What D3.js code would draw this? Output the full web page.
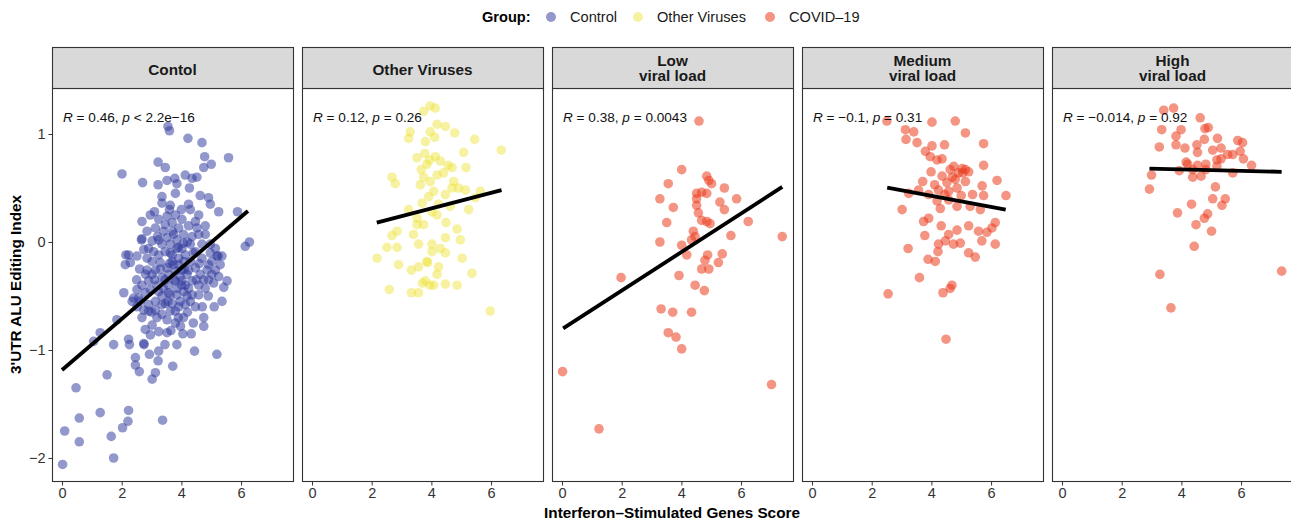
<!DOCTYPE html>
<html>
<head>
<meta charset="utf-8">
<script src="https://cdn.jsdelivr.net/npm/d3@7"></script>
<style>
  body { margin: 0; background: #fff; }
  svg { font-family: "Liberation Sans", Arial, Helvetica, sans-serif; }
</style>
</head>
<body>
<svg id="chart" width="1291" height="523"></svg>
<script>
// facet titles and the stat label in each panel
var panelTitles = [["Contol"], ["Other Viruses"], ["Low", "viral load"], ["Medium", "viral load"], ["High", "viral load"]];
var panelGroup = ["Control", "Other Viruses", "COVID-19", "COVID-19", "COVID-19"];
var statR = ["0.46", "0.12", "0.38", "\u22120.1", "\u22120.014"];
var statP = ["< 2.2e\u221216", "= 0.26", "= 0.0043", "= 0.31", "= 0.92"];

var groups = ["Control", "Other Viruses", "COVID-19"];
var groupLabels = ["Control", "Other Viruses", "COVID\u201319"];
var groupColors = ["#30399e", "#ebe11e", "#eb3c1e"];
var groupOpacity = [0.52, 0.42, 0.55];

var xTicks = [0, 2, 4, 6];
var yTicks = [1, 0, -1, -2];

// fitted lines: [x0, y0, x1, y1]
var fitLines = [
  [0.0, -1.185, 6.23, 0.287],
  [2.17, 0.179, 6.35, 0.48],
  [0.04, -0.80, 7.38, 0.51],
  [2.52, 0.503, 6.49, 0.30],
  [2.93, 0.68, 7.36, 0.65]
];

var controlPts = [
  [3.55,1.07],[3.6,1.03],[4.22,0.96],[4.69,0.92],[4.78,0.79],[5.58,0.78],[4.75,0.69],[5.0,0.72],
  [3.22,0.74],[3.46,0.69],[2.01,0.63],[2.70,0.55],[3.22,0.53],[3.52,0.57],[3.78,0.59],[3.85,0.54],
  [4.13,0.62],[4.36,0.59],[4.52,0.60],[4.27,0.50],[4.63,0.43],[4.91,0.41],[4.97,0.35],[4.24,0.35],
  [5.25,0.28],[5.88,0.28],[3.35,0.36],[3.63,0.34],[2.96,0.25],[2.68,0.19],[3.1,0.28],[4.58,0.25],
  [4.8,0.15],[2.85,0.10],[2.68,0.03],[2.14,-0.12],[2.12,-0.21],[2.29,-0.19],[6.14,-0.04],[6.28,0.0],
  [5.23,-0.13],[5.36,-0.13],[5.53,-0.36],[5.42,-0.42],[5.36,-0.55],[4.75,-0.70],[4.75,-0.78],[2.07,-0.47],
  [1.84,-0.72],[1.28,-0.84],[1.06,-0.92],[1.73,-0.95],[2.23,-0.90],[2.26,-0.95],[2.74,-0.94],[2.93,-1.04],
  [3.24,-1.01],[3.22,-1.10],[2.46,-1.07],[2.46,-1.14],[2.59,-1.20],[3.13,-1.21],[3.02,-1.27],[3.71,-1.15],
  [4.33,-0.85],[4.44,-1.01],[5.19,-1.04],[1.51,-1.23],[0.47,-1.35],[1.28,-1.58],[2.23,-1.56],[2.21,-1.66],
  [2.03,-1.72],[0.58,-1.63],[0.09,-1.75],[0.58,-1.85],[1.65,-1.80],[1.73,-2.0],[3.37,-1.65],[0.02,-2.06],
  [2.66,0.02],[3.02,0.01],[3.13,0.13],[3.46,0.16],[3.69,0.18],[3.91,0.13],[4.07,0.07],[4.36,0.05],
  [4.52,0.13],[4.8,0.07],[4.69,-0.02],[4.97,-0.10],[5.19,-0.13],[5.02,-0.18],[4.86,-0.26],[5.02,-0.30],
  [4.75,-0.35],[4.58,-0.40],[4.24,-0.43],[4.36,-0.49],[4.13,-0.58],[3.91,-0.60],[4.47,-0.60],[4.07,-0.70],
  [3.97,-0.78],[3.8,-0.75],[3.52,-0.84],[3.24,-0.83],[2.96,-0.86],[2.79,-0.81],[3.02,-0.77],[2.68,-0.70],
  [2.74,-0.63],[2.9,-0.58],[3.13,-0.55],[3.35,-0.50],[2.57,-0.52],[2.4,-0.52],[2.51,-0.44],[2.68,-0.40],
  [2.9,-0.36],[3.02,-0.30],[2.85,-0.26],[3.02,-0.18],[2.85,-0.15],[3.24,-0.12],[3.46,-0.09],[3.63,-0.02],
  [3.52,0.04],[3.74,0.07],[3.35,-0.02],[3.69,-0.18],[3.91,-0.15],[4.13,-0.12],[4.3,-0.18],[4.47,-0.24],
  [4.24,-0.26],[4.02,-0.26],[3.8,-0.27],[3.57,-0.30],[3.35,-0.33],[3.57,-0.40],[3.8,-0.36],[4.02,-0.36],
  [3.85,-0.43],[3.63,-0.49],[3.4,-0.43],[3.24,-0.46],[3.46,-0.57],[3.69,-0.57],[3.63,-0.64],[3.35,-0.67],
  [3.18,-0.70],[3.52,-0.72],[4.19,-0.50],[4.58,-0.49],[4.8,-0.43],[4.91,-0.35],[4.63,-0.30],[4.69,-0.15],
  [4.47,-0.09],[4.3,-0.02],[4.07,-0.01],[3.85,-0.06],[3.63,-0.10],[3.29,-0.19],[3.13,-0.26],[3.18,-0.40],
  [2.96,-0.44],[2.79,-0.47],[2.35,-0.55],[2.23,-0.12],[2.51,-0.13],[2.74,-0.07],[2.9,-0.06],[3.07,-0.09],
  [3.24,0.02],[3.4,0.10],[3.24,0.21],[3.52,0.24],[3.8,0.25],[4.02,0.21],[4.24,0.15],[4.47,0.19],
  [4.58,0.07],[4.97,-0.02],[5.14,-0.06],[5.3,-0.21],[4.91,-0.21],[5.14,-0.26],[5.25,-0.32],[5.08,-0.38],
  [2.62,-0.55],[2.51,-0.60],[3.91,-0.21],[4.08,-0.18],[4.19,-0.30],[3.96,-0.32],[3.74,-0.21],[3.52,-0.24],
  [3.69,-0.12],[3.85,0.02],[4.02,-0.06],[4.36,-0.36],[4.13,-0.40],[3.85,-0.49],[4.08,-0.46],[4.30,-0.55],
  [3.57,-0.47],[3.35,-0.58],[3.13,-0.63],[2.90,-0.64],[3.80,-0.64],[3.96,-0.55],[3.6,-0.2],[3.75,-0.35],
  [4.0,-0.4],[4.1,-0.25],[3.9,-0.05],[3.7,0.1],[4.2,0.0],[4.4,-0.1],[4.6,-0.2],[4.5,-0.35],
  [3.3,-0.25],[3.1,-0.35],[3.45,-0.35],[3.55,-0.55],[3.9,-0.7],[4.2,-0.65],[3.0,-0.65],[2.8,-0.3],
  [3.2,0.05],[3.6,0.3],[4.0,0.3],[4.3,0.3],[3.35,0.42],[3.8,0.45],[4.4,-0.75],[3.65,-0.82],
  [4.05,-0.85],[2.6,-0.25],[2.5,-0.35],[4.9,-0.5],[5.1,-0.6],[4.7,-0.6],[3.85,-0.95],[3.45,-0.95],[2.75,-0.95]
];

var otherPts = [
  [3.96,1.26],[4.13,1.24],[3.74,1.21],[4.19,1.09],[4.47,1.07],[3.96,1.02],[3.29,1.02],[3.24,0.96],
  [4.11,0.97],[4.78,1.01],[5.45,0.95],[3.80,0.93],[6.34,0.85],[5.08,0.83],[3.52,0.78],[3.78,0.82],
  [4.13,0.79],[4.30,0.75],[3.94,0.76],[4.56,0.71],[4.69,0.69],[5.16,0.69],[3.66,0.67],[3.85,0.72],
  [2.68,0.60],[2.79,0.54],[3.63,0.53],[3.74,0.60],[3.96,0.56],[4.19,0.62],[4.41,0.64],[4.75,0.56],
  [4.91,0.50],[5.14,0.48],[4.69,0.50],[4.08,0.47],[3.91,0.42],[3.69,0.36],[4.47,0.44],[5.47,0.41],
  [5.64,0.47],[4.24,0.35],[3.24,0.30],[4.02,0.28],[4.63,0.33],[5.25,0.30],[3.52,0.22],[3.74,0.16],
  [3.52,0.16],[4.19,0.25],[4.49,0.18],[4.86,0.12],[2.85,0.10],[2.68,0.06],[3.40,0.07],[3.57,-0.02],
  [4.02,-0.02],[4.47,0.04],[4.97,0.02],[2.51,-0.05],[2.85,-0.05],[4.02,-0.09],[4.30,-0.06],[4.47,-0.10],
  [2.18,-0.15],[2.90,-0.21],[3.85,-0.18],[3.87,-0.19],[5.03,-0.15],[3.33,-0.26],[3.57,-0.23],[4.24,-0.23],
  [5.36,-0.29],[3.80,-0.36],[4.08,-0.40],[4.19,-0.30],[4.47,-0.39],[4.86,-0.40],[2.59,-0.44],[3.33,-0.47],
  [3.57,-0.47],[5.97,-0.64],[3.95,-0.40],[3.70,-0.38]
];

var lowPts = [
  [4.59,1.12],[4.01,0.67],[3.56,0.54],[4.85,0.61],[4.92,0.57],[5.01,0.54],[5.44,0.50],[4.51,0.45],
  [4.68,0.46],[4.85,0.45],[3.28,0.40],[4.51,0.40],[5.29,0.37],[5.85,0.40],[3.73,0.32],[4.51,0.34],
  [5.44,0.30],[4.57,0.27],[3.51,0.18],[4.68,0.20],[4.85,0.19],[4.96,0.17],[6.24,0.19],[4.40,0.10],
  [4.46,0.05],[4.34,0.02],[5.66,0.06],[7.38,0.05],[3.28,0.00],[4.01,-0.03],[4.18,-0.12],[4.88,-0.12],
  [5.37,-0.11],[4.79,-0.17],[5.24,-0.19],[4.68,-0.25],[4.92,-0.25],[1.98,-0.33],[3.92,-0.31],[4.46,-0.40],
  [4.77,-0.45],[3.32,-0.62],[3.71,-0.65],[4.34,-0.65],[3.56,-0.84],[3.82,-0.88],[4.01,-0.99],[0.02,-1.20],
  [1.24,-1.73],[7.02,-1.32]
];

var mediumPts = [
  [2.51,1.12],[4.02,1.11],[4.80,1.12],[3.13,1.04],[3.41,1.02],[3.15,0.95],[5.14,1.01],[3.52,0.92],
  [4.02,0.89],[4.44,0.90],[5.75,0.91],[3.80,0.84],[3.96,0.79],[4.19,0.76],[4.36,0.77],[5.75,0.71],
  [3.99,0.65],[4.75,0.70],[5.03,0.68],[5.14,0.67],[5.25,0.65],[4.91,0.64],[4.63,0.67],[4.36,0.61],
  [4.52,0.55],[4.80,0.58],[5.14,0.56],[3.71,0.56],[4.11,0.53],[6.20,0.57],[5.70,0.52],[3.24,0.45],
  [3.57,0.48],[3.91,0.44],[4.24,0.48],[4.58,0.47],[4.86,0.50],[5.00,0.43],[5.38,0.44],[5.75,0.43],
  [6.50,0.43],[4.19,0.38],[4.58,0.39],[4.86,0.33],[3.02,0.30],[4.30,0.31],[5.30,0.33],[5.64,0.30],
  [3.91,0.22],[3.74,0.19],[4.33,0.15],[4.86,0.11],[5.25,0.15],[6.14,0.18],[3.78,0.06],[4.58,0.07],
  [5.58,0.10],[5.86,0.09],[6.03,0.13],[5.69,0.01],[3.22,-0.06],[4.24,-0.02],[4.47,0.01],[4.74,-0.02],
  [4.97,-0.01],[6.14,-0.02],[4.22,-0.09],[5.25,-0.10],[5.47,-0.14],[3.89,-0.16],[4.13,-0.18],[3.60,-0.33],
  [4.69,-0.40],[4.63,-0.43],[4.39,-0.47],[2.55,-0.48],[4.49,-0.90],[5.05,0.64],[4.70,0.60],[4.45,0.44]
];

var highPts = [
  [3.41,1.22],[3.74,1.24],[4.63,1.15],[3.34,1.04],[3.99,1.04],[4.79,1.05],[4.90,1.06],[3.82,0.98],
  [4.77,0.95],[5.21,0.96],[5.89,0.94],[6.05,0.92],[3.26,0.88],[3.82,0.90],[4.12,0.87],[4.52,0.90],
  [5.05,0.85],[5.33,0.87],[4.54,0.83],[5.72,0.81],[5.97,0.84],[5.33,0.77],[5.55,0.81],[6.08,0.77],
  [5.19,0.76],[4.16,0.74],[4.21,0.72],[4.82,0.72],[4.54,0.71],[5.19,0.70],[6.35,0.71],[3.93,0.66],
  [4.38,0.67],[4.82,0.67],[5.72,0.64],[3.00,0.62],[4.38,0.60],[4.66,0.61],[2.93,0.49],[5.14,0.51],
  [4.34,0.35],[5.05,0.40],[5.47,0.40],[5.36,0.34],[3.87,0.27],[4.88,0.26],[4.77,0.22],[4.49,0.16],
  [5.01,0.10],[4.43,-0.04],[3.28,-0.30],[7.36,-0.27],[3.65,-0.61]
];

var panelPts = [controlPts, otherPts, lowPts, mediumPts, highPts];

// layout
var svg = d3.select("#chart");
var panelLeft = 52, panelW = 241, panelGap = 9;
var stripTop = 47, panelTop = 88, panelBottom = 481;

var x = d3.scaleLinear().domain([-0.335, 7.74]).range([0, panelW]);
var y = d3.scaleLinear().domain([-2.213, 1.426]).range([panelBottom - panelTop, 0]);

// d3 axes set their own font on the group, so put ours back
function styleAxis(sel) {
  sel.attr("font-family", null).attr("font-size", 14.5);
  sel.select(".domain").remove();
  sel.selectAll(".tick line").attr("stroke", "#333");
  sel.selectAll(".tick text").attr("fill", "#333");
}

panelTitles.forEach(function(title, i) {
  var left = panelLeft + i * (panelW + panelGap);
  var g = svg.append("g").attr("transform", "translate(" + left + "," + panelTop + ")");
  var gi = groups.indexOf(panelGroup[i]);

  // strip
  svg.append("rect")
    .attr("x", left + 0.5).attr("y", stripTop + 0.5)
    .attr("width", panelW).attr("height", panelTop - stripTop)
    .attr("fill", "#d9d9d9").attr("stroke", "#333").attr("stroke-width", 1.1);
  var st = svg.append("text")
    .attr("x", left + panelW / 2)
    .attr("text-anchor", "middle")
    .attr("font-weight", "bold").attr("font-size", 15.3).attr("fill", "#1a1a1a");
  title.forEach(function(line, k) {
    var yy = title.length === 1 ? 74.5 : 66 + 15 * k;
    st.append("tspan").attr("x", left + panelW / 2).attr("y", yy).text(line);
  });

  // clip so points near the edge stay inside the panel
  svg.append("clipPath").attr("id", "clip" + i)
    .append("rect").attr("width", panelW).attr("height", panelBottom - panelTop);

  var body = g.append("g").attr("clip-path", "url(#clip" + i + ")");

  body.selectAll("circle")
    .data(panelPts[i])
    .enter()
    .append("circle")
    .attr("cx", function(d) { return x(d[0]); })
    .attr("cy", function(d) { return y(d[1]); })
    .attr("r", 4.8)
    .attr("fill", groupColors[gi])
    .attr("fill-opacity", groupOpacity[gi]);

  var f = fitLines[i];
  body.append("line")
    .attr("x1", x(f[0])).attr("y1", y(f[1]))
    .attr("x2", x(f[2])).attr("y2", y(f[3]))
    .attr("stroke", "#000").attr("stroke-width", 3.8);

  // stat label
  var lab = g.append("text").attr("x", 11).attr("y", 34).attr("font-size", 13.6).attr("fill", "#111");
  lab.append("tspan").attr("font-style", "italic").text("R");
  lab.append("tspan").text(" = " + statR[i] + ", ");
  lab.append("tspan").attr("font-style", "italic").text("p");
  lab.append("tspan").text(" " + statP[i]);

  // panel border
  g.append("rect")
    .attr("x", 0.5).attr("y", 0.5)
    .attr("width", panelW).attr("height", panelBottom - panelTop)
    .attr("fill", "none").attr("stroke", "#333").attr("stroke-width", 1.1);

  // x axis
  g.append("g")
    .attr("transform", "translate(0," + (panelBottom - panelTop + 1) + ")")
    .call(d3.axisBottom(x).tickValues(xTicks).tickSize(3.5).tickPadding(2))
    .call(styleAxis);

  if (i === 0) {
    g.append("g")
      .call(d3.axisLeft(y).tickValues(yTicks).tickSize(3.5).tickPadding(3)
        .tickFormat(function(d) { return d < 0 ? "\u2212" + Math.abs(d) : d; }))
      .call(styleAxis);
  }
});

// axis titles
svg.append("text")
  .attr("x", 672).attr("y", 518)
  .attr("text-anchor", "middle").attr("font-weight", "bold").attr("font-size", 15.3)
  .text("Interferon\u2013Stimulated Genes Score");

svg.append("text")
  .attr("transform", "translate(21," + ((panelTop + panelBottom) / 2) + ") rotate(-90)")
  .attr("text-anchor", "middle").attr("font-weight", "bold").attr("font-size", 15.3)
  .text("3'UTR ALU Editing Index");

// legend
var legend = svg.append("g");
legend.append("text").attr("x", 482).attr("y", 22)
  .attr("font-weight", "bold").attr("font-size", 14.6).text("Group:");
var legendX = [551, 638, 770];
groups.forEach(function(gname, k) {
  legend.append("circle")
    .attr("cx", legendX[k]).attr("cy", 17).attr("r", 5)
    .attr("fill", groupColors[k]).attr("fill-opacity", groupOpacity[k]);
  legend.append("text")
    .attr("x", legendX[k] + 19).attr("y", 22)
    .attr("font-size", 14.6).attr("fill", "#1a1a1a")
    .text(groupLabels[k]);
});
</script>
</body>
</html>
